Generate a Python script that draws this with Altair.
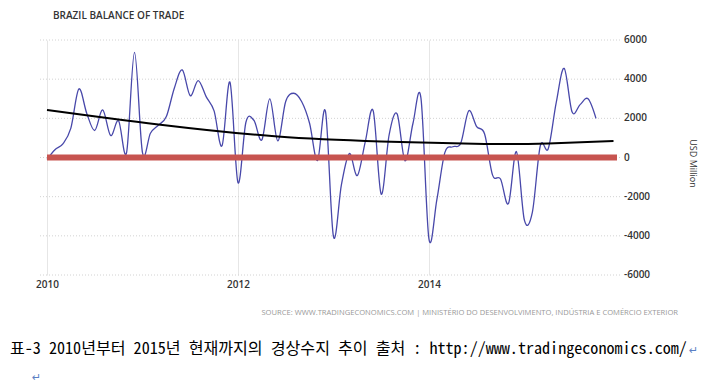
import altair as alt
import pandas as pd

# Monthly Brazil balance of trade (USD million), Jan 2010 .. Oct 2015
start_year = 2010
balance = [
    -100, 400, 700, 1500, 3500, 2250, 1380, 2430, 1120, 1870, 250, 5370,
    250, 1240, 1650, 2090, 3540, 4470, 3160, 3930, 3110, 2380, 600, 3840,
    -1280, 1800, 1900, 900, 2990, 850, 2860, 3280, 2860, 1750, -150, 2350,
    -4030, -1400, 200, -920, 800, 2380, -1870, 1160, 2230, -170, 1750, 3030,
    -4150, -2150, 250, 550, 730, 2380, 1580, 1200, -900, -1100, -2350, 300,
    -3200, -2800, 600, 450, 2800, 4550, 2320, 2700, 3000, 2000,
]
# trend line readings (month index from Jan 2010, value)
trend_month = [0, 14, 29, 42, 55, 63, 71.2]
trend_value = [2430, 1690, 1070, 820, 690, 720, 840]

x_ticks = [2010, 2012, 2014]
y_ticks = [-6000, -4000, -2000, 0, 2000, 4000, 6000]
y_tick_labels = ["-6000", "-4000", "-2000", "0", "2000", "4000", "6000"]

title_text = "BRAZIL BALANCE OF TRADE"
source_text = "SOURCE: WWW.TRADINGECONOMICS.COM | MINISTÉRIO DO DESENVOLVIMENTO, INDÚSTRIA E COMÉRCIO EXTERIOR"
caption_text = "표-3 2010년부터 2015년 현재까지의 경상수지 추이 출처 : http://www.tradingeconomics.com/"
y_title = "USD Million"

df = pd.DataFrame({"t": [start_year + i / 12 for i in range(len(balance))], "v": balance})
tdf = pd.DataFrame({"t": [start_year + m / 12 for m in trend_month], "v": trend_value})
ydf = pd.DataFrame({"v": y_ticks, "lab": y_tick_labels})

xscale = alt.Scale(domain=[2010, 2015.97], nice=False, zero=False)
yscale = alt.Scale(domain=[-6000, 6000], nice=False)

xaxis = alt.Axis(values=x_ticks, format="d", title=None, grid=True, gridColor="#e6e6e6",
                 ticks=False, domain=False, labelFlush=False, labelPadding=4,
                 labelFont="Open Sans", labelFontWeight=600, labelFontSize=10, labelColor="#333333")
yaxis = alt.Axis(orient="right", grid=False, ticks=False, domain=False, labels=False,
                 title=y_title, titleFont="Open Sans", titleFontWeight="normal", titleFontSize=9,
                 titleColor="#333333", titleX=75, titleY=123, titleAngle=90,
                 titleAlign="center", titleBaseline="middle")

grid = alt.Chart(ydf).mark_rule(color="#d2d2d2", strokeWidth=1, strokeDash=[1, 2]).encode(
    x=alt.value(-7), x2=alt.value(573),
    y=alt.Y("v:Q", scale=yscale, axis=yaxis),
)
ylabels = alt.Chart(ydf).mark_text(align="left", baseline="middle", font="Open Sans",
                                   fontWeight=600, fontSize=10, color="#333333").encode(
    x=alt.value(577),
    y=alt.Y("v:Q", scale=yscale),
    text="lab:N",
)
line = alt.Chart(df).mark_line(color="#4848aa", strokeWidth=1.3, interpolate="cardinal").encode(
    x=alt.X("t:Q", scale=xscale, axis=xaxis),
    y=alt.Y("v:Q", scale=yscale),
)
trend = alt.Chart(tdf).mark_line(color="#000000", strokeWidth=2, interpolate="natural").encode(
    x=alt.X("t:Q", scale=xscale),
    y=alt.Y("v:Q", scale=yscale),
)
zero = alt.Chart(pd.DataFrame({"v": [0]})).mark_rule(color="#c75450", strokeWidth=6).encode(
    y=alt.Y("v:Q", scale=yscale),
)

def label(text, x, y, **kw):
    return alt.Chart(pd.DataFrame({"s": [text]})).mark_text(**kw).encode(
        x=alt.value(x), y=alt.value(y), text="s:N")

title = label(title_text, 6, -24, align="left", baseline="middle", font="Open Sans",
              fontWeight=600, fontSize=10, color="#333333")
source = label(source_text, 631, 273, align="right", baseline="middle", font="Open Sans",
               fontSize=7.6, color="#999999")
caption = label(caption_text, -37, 309, align="left", baseline="middle",
                font="'Noto Sans Mono CJK KR', 'Noto Sans CJK KR'", fontSize=16.1, color="#000000")
mark1 = label("↵", 642, 311, align="left", baseline="middle", font="DejaVu Sans",
              fontSize=11, color="#5b7fc4")
mark2 = label("↵", -15, 338, align="left", baseline="middle", font="DejaVu Sans",
              fontSize=11, color="#5b7fc4")

chart = alt.layer(grid, ylabels, line, trend, zero, title, source, caption, mark1, mark2).properties(
    width=570, height=235,
    padding={"left": 39, "top": 32, "right": 98, "bottom": 108},
    autosize=alt.AutoSizeParams(type="none"),
).configure_view(strokeWidth=0)

chart.save("out.html", embed_options={"renderer": "svg", "actions": False})
